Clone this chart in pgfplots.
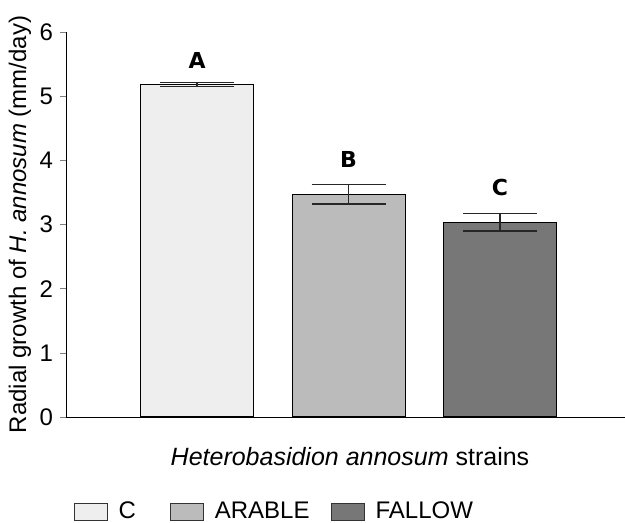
\documentclass[border=0pt]{standalone}
\usepackage{fontspec}
\setmainfont{Liberation Sans}
\newfontfamily\heavy{DejaVu Sans}
\usepackage{pgfplots}
\pgfplotsset{compat=1.18}

\definecolor{barC}{RGB}{238,238,238}
\definecolor{barA}{RGB}{187,187,187}
\definecolor{barF}{RGB}{119,119,119}

\begin{document}
\begin{tikzpicture}
\begin{axis}[
  at={(0,0)}, anchor=south west,
  scale only axis,
  width=279.5pt, height=192.5pt,
  xmin=0.135, xmax=3.825,
  ymin=0, ymax=6,
  axis x line*=bottom, axis y line*=left,
  ytick={0,1,...,6}, xtick=\empty,
  tick align=outside, major tick length=3pt,
  font=\fontsize{12}{14}\selectfont,
  /pgf/number format/assume math mode=true,
  xlabel={\textit{Heterobasidion annosum} strains},
  ylabel={Radial growth of \textit{H. annosum} (mm/day)},
  xlabel style={at={(axis description cs:0.508,-0.104)}, anchor=center, font=\fontsize{12.5}{14}\selectfont},
  ylabel style={at={(axis description cs:-0.0823,0.5)}, anchor=center},
  ybar, bar width=56.5pt, bar shift=0pt,
  legend columns=3,
  legend style={draw=none, fill=none, at={(axis description cs:0.002,-0.247)}, anchor=west,
    font=\fontsize{12}{14}\selectfont, nodes={inner sep=0pt},
    /tikz/column 1/.style={column sep=5.5pt},
    /tikz/column 2/.style={column sep=17pt},
    /tikz/column 3/.style={column sep=5.5pt},
    /tikz/column 4/.style={column sep=10.5pt},
    /tikz/column 5/.style={column sep=5.5pt}},
  legend image code/.code={\draw[#1, draw=black!80] (0pt,-4.25pt) rectangle (16.5pt,4.25pt);},
  error bars/y dir=both, error bars/y explicit,
  error bars/error bar style={line width=0.6pt, black!85},
  error bars/error mark options={rotate=90, mark size=18.5pt, line width=0.6pt, black!85},
]
\addplot[fill=barC, draw=black, line width=0.5pt] coordinates {(1,5.18) +- (0,0.035)};
\addplot[fill=barA, draw=black, line width=0.5pt] coordinates {(2,3.47) +- (0,0.15)};
\addplot[fill=barF, draw=black, line width=0.5pt] coordinates {(3,3.035) +- (0,0.135)};
\legend{C, ARABLE, FALLOW}
\node[font=\heavy\bfseries\fontsize{11}{13}\selectfont] at (axis cs:1,5.55) {A};
\node[font=\heavy\bfseries\fontsize{11}{13}\selectfont] at (axis cs:2,4.02) {B};
\node[font=\heavy\bfseries\fontsize{11}{13}\selectfont] at (axis cs:3,3.57) {C};
\end{axis}
\pgfresetboundingbox
\path (-33pt,-53pt) rectangle (279.5pt,208.5pt);
\end{tikzpicture}
\end{document}
